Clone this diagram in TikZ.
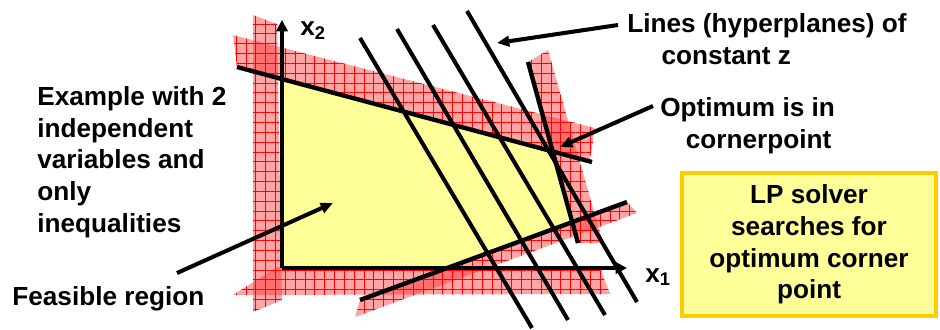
\documentclass[tikz,border=0pt]{standalone}
\usepackage{fontspec}
\setmainfont{Liberation Sans}
\usepackage{tikz}
\usetikzlibrary{arrows.meta, patterns.meta}
\usepackage{xcolor}

\definecolor{feasyellow}{HTML}{FFFF99}
\definecolor{boxgold}{HTML}{FFCC00}

\begin{document}
\begin{tikzpicture}[
    x=0.02cm, y=-0.02cm,
    font=\fontsize{14.9}{18}\selectfont\bfseries,
    label text/.style={inner sep=0pt, align=left},
    band/.style={fill=red!85, fill opacity=0.42,
        postaction={pattern={Hatch[angle=0, distance=5.6pt, line width=0.45pt]}, pattern color=red}},
    bound line/.style={line width=2.5pt},
    zline/.style={line width=2.3pt},
    pointer/.style={line width=2.3pt, -{Triangle[length=7pt, width=6pt]}},
    axis/.style={line width=2.5pt, -{Triangle[length=6.5pt, width=6.5pt]}}
]
    \useasboundingbox (0,0) rectangle (940,329);

    % Feasible region
    \fill[feasyellow] (282,79) -- (553,152) -- (572,222) -- (447,268) -- (282,268) -- cycle;

    % Constraint bands
    \path[band] (253,15) -- (277,24) -- (282,300) -- (253,312) -- cycle;
    \path[band] (277,267) -- (600,267) -- (610,294) -- (233,295) -- cycle;
    \path[band] (233,35) -- (595,128) -- (590,160) -- (237,67) -- cycle;
    \path[band] (528,62) -- (548,50) -- (603,243) -- (578,243) -- cycle;
    \path[band] (360,300) -- (627,202) -- (637,213) -- (355,317) -- cycle;

    % Axes
    \coordinate (origin) at (282,268);
    \coordinate (xend) at (627,268);
    \coordinate (yend) at (282,20);
    \draw[axis] (origin) -- (xend);
    \draw[axis] (origin) -- (yend);
    \node[inner sep=0pt, anchor=base west] (xone) at (645,282) {x\textsubscript{1}};
    \node[inner sep=0pt, anchor=base west] (xtwo) at (300,35) {x\textsubscript{2}};

    % Constraint lines
    \draw[bound line] (237,67) -- (592,162);
    \draw[bound line] (528,62) -- (578,243);
    \draw[bound line] (360,300) -- (627,202);

    % Lines of constant z
    \draw[zline] (360,38) -- (532,328);
    \draw[zline] (397,29) -- (568,320);
    \draw[zline] (433,25) -- (605,315);
    \draw[zline] (467,11) -- (637,302);

    % Labels (base = last line)
    \node[label text, anchor=base west] (example) at (37,232)
        {Example with 2\\independent\\variables and\\only\\inequalities};
    \node[label text, anchor=base west] (feasible) at (12,305) {Feasible region};
    \node[label text, anchor=base west] (hyper) at (627,64)
        {Lines (hyperplanes) of\\\hspace*{19.5pt}constant z};
    \node[label text, anchor=base west] (optimum) at (660,148)
        {Optimum is in\\\hspace*{14.5pt}cornerpoint};
    \node[draw=boxgold, fill=feasyellow, line width=2.2pt, align=center,
        inner sep=0pt, minimum width=5.08cm, minimum height=2.86cm] (solver) at (809,244.5)
        {LP solver\\searches for\\optimum corner\\point};

    % Pointers
    \coordinate (hyperfrom) at (618,25);
    \coordinate (hyperto) at (497,43);
    \coordinate (optfrom) at (653,106);
    \coordinate (corner) at (560,147);
    \coordinate (feasfrom) at (177,273);
    \coordinate (feasto) at (333,203);
    \draw[pointer] (hyperfrom) -- (hyperto);
    \draw[pointer] (optfrom) -- (corner);
    \draw[pointer] (feasfrom) -- (feasto);
\end{tikzpicture}
\end{document}
